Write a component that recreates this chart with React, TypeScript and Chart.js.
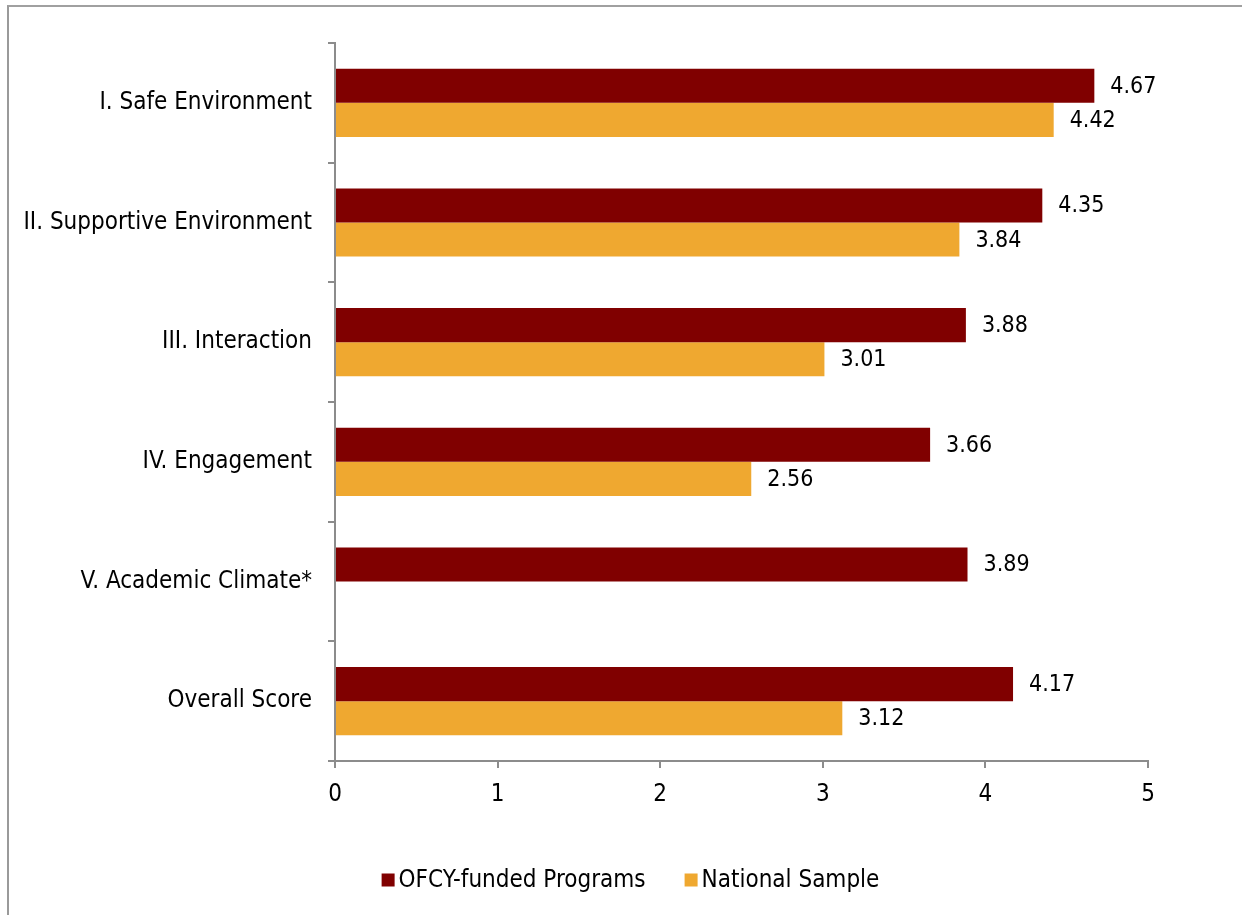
import React, { useEffect, useRef } from "react";
import { Chart, registerables } from "chart.js";

Chart.register(...registerables);

const categories = [
  "I. Safe Environment",
  "II. Supportive Environment",
  "III. Interaction",
  "IV. Engagement",
  "V. Academic Climate*",
  "Overall Score",
];
const ofcyScores = [4.67, 4.35, 3.88, 3.66, 3.89, 4.17];
const nationalScores: (number | null)[] = [4.42, 3.84, 3.01, 2.56, null, 3.12];
const seriesNames = ["OFCY-funded Programs", "National Sample"];
const seriesColors = ["#800000", "#EFA830"];
const xTicks = [0, 1, 2, 3, 4, 5];

const FONT = "'DejaVu Sans Condensed', 'DejaVu Sans', sans-serif";
const AXIS_GRAY = "#8c8c8c";

// Writes each bar's value just past its end.
const valueLabels = {
  id: "valueLabels",
  afterDatasetsDraw(chart: any) {
    const ctx = chart.ctx;
    ctx.save();
    ctx.font = `23px ${FONT}`;
    ctx.fillStyle = "#000";
    ctx.textAlign = "left";
    ctx.textBaseline = "middle";
    chart.data.datasets.forEach((ds: any, di: number) => {
      const meta = chart.getDatasetMeta(di);
      meta.data.forEach((bar: any, i: number) => {
        const v = ds.data[i];
        if (v === null || v === undefined) return;
        ctx.fillText(Number(v).toFixed(2), bar.x + 16, bar.y + 1);
      });
    });
    ctx.restore();
  },
};

// Compact legend below the axis: square swatch followed closely by its name.
const bottomLegend = {
  id: "bottomLegend",
  afterDraw(chart: any) {
    const ctx = chart.ctx;
    const box = 13;
    const gap = 4;
    const spacing = 39;
    ctx.save();
    ctx.font = `24px ${FONT}`;
    ctx.textBaseline = "middle";
    ctx.textAlign = "left";
    const widths = seriesNames.map((n) => ctx.measureText(n).width);
    const total =
      widths.reduce((a, w) => a + box + gap + w, 0) + spacing * (seriesNames.length - 1);
    let x = chart.width / 2 + 5 - total / 2;
    const y = chart.height - 35;
    seriesNames.forEach((name, i) => {
      ctx.fillStyle = seriesColors[i];
      ctx.fillRect(x, y - box / 2, box, box);
      ctx.fillStyle = "#000";
      ctx.fillText(name, x + box + gap, y + 1);
      x += box + gap + widths[i] + spacing;
    });
    ctx.restore();
  },
};

function ScoreChart() {
  const canvasRef = useRef<HTMLCanvasElement | null>(null);

  useEffect(() => {
    if (!canvasRef.current) return;
    const chart = new Chart(canvasRef.current, {
      type: "bar",
      data: {
        labels: categories,
        datasets: [
          {
            label: seriesNames[0],
            data: ofcyScores,
            backgroundColor: seriesColors[0],
            barPercentage: 1,
            categoryPercentage: 0.57,
          },
          {
            label: seriesNames[1],
            data: nationalScores,
            backgroundColor: seriesColors[1],
            barPercentage: 1,
            categoryPercentage: 0.57,
          },
        ],
      },
      options: {
        indexAxis: "y",
        animation: false,
        responsive: false,
        devicePixelRatio: 1,
        layout: { padding: { left: 0, right: 94, top: 36, bottom: 0 } },
        plugins: {
          legend: { display: false },
          tooltip: { enabled: false },
        },
        scales: {
          x: {
            type: "linear",
            min: 0,
            max: 5,
            afterBuildTicks: (scale: any) => {
              scale.ticks = xTicks.map((v) => ({ value: v }));
            },
            afterFit: (scale: any) => {
              scale.height = 154;
            },
            ticks: {
              color: "#000",
              font: { family: FONT, size: 24 },
              padding: 12,
              maxRotation: 0,
            },
            grid: {
              drawOnChartArea: false,
              drawTicks: true,
              tickLength: 7,
              color: AXIS_GRAY,
              lineWidth: 2,
            },
            border: { display: true, color: AXIS_GRAY, width: 2 },
          },
          y: {
            type: "category",
            afterFit: (scale: any) => {
              scale.width = 326;
            },
            ticks: {
              color: "#000",
              font: { family: FONT, size: 24 },
              padding: 16,
            },
            grid: {
              offset: true,
              drawOnChartArea: false,
              drawTicks: true,
              tickLength: 7,
              color: AXIS_GRAY,
              lineWidth: 2,
            },
            border: { display: true, color: AXIS_GRAY, width: 2 },
          },
        },
      },
      plugins: [valueLabels, bottomLegend],
    } as any);
    return () => chart.destroy();
  }, []);

  return (
    <canvas
      ref={canvasRef}
      width={1233}
      height={908}
      style={{ display: "block", width: 1233, height: 908 }}
    />
  );
}

export default function App() {
  return (
    <div
      style={{
        position: "fixed",
        left: 7,
        top: 5,
        width: 1300,
        height: 1000,
        borderTop: "2px solid #a0a0a0",
        borderLeft: "2px solid #9a9a9a",
        background: "#fff",
        overflow: "hidden",
      }}
    >
      <ScoreChart />
    </div>
  );
}
